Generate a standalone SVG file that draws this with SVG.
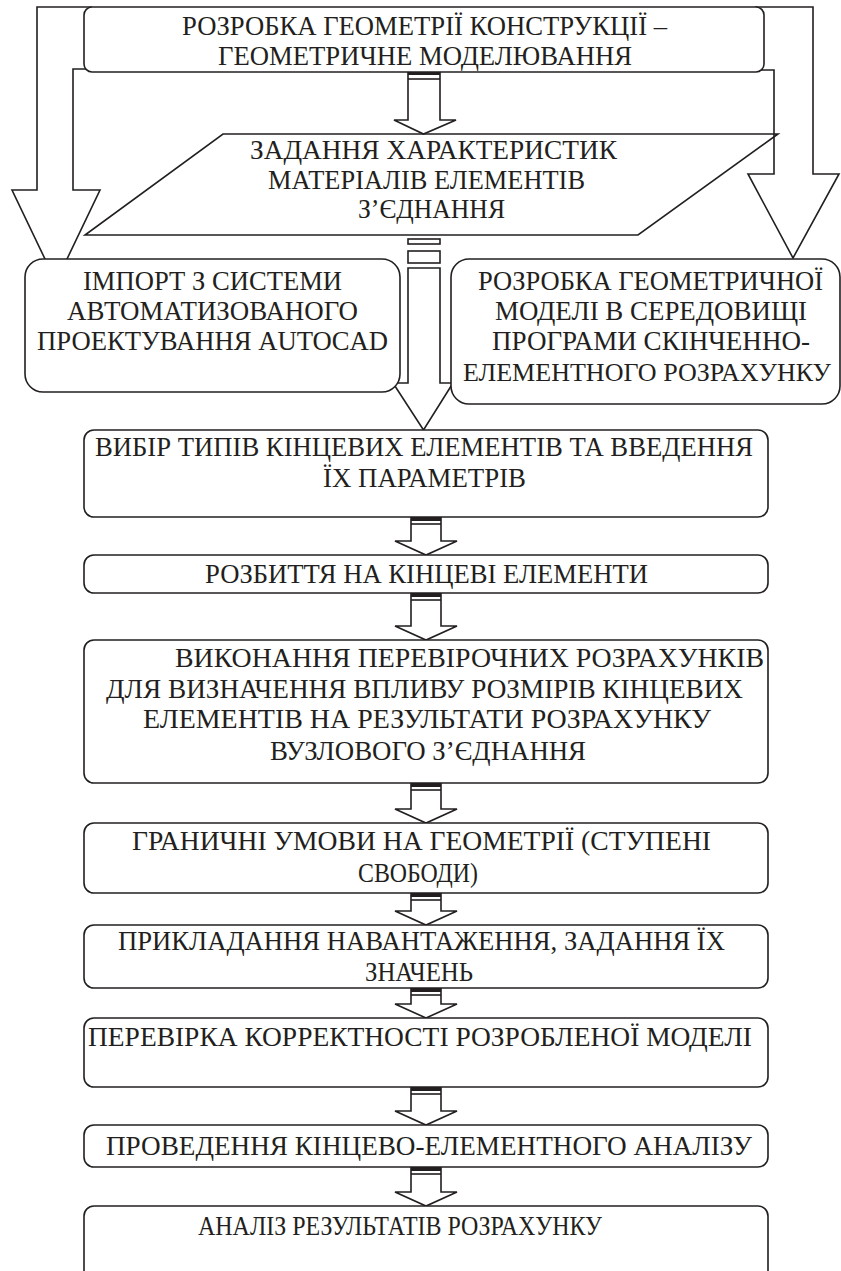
<svg xmlns="http://www.w3.org/2000/svg" width="841" height="1271" viewBox="0 0 841 1271">
<style>
.bx{fill:#fff;stroke:#231f20;stroke-width:1.6}
.cn{fill:none;stroke:#231f20;stroke-width:1.6;stroke-linejoin:miter}
.bar{fill:#231f20}
.t{font-family:"Liberation Serif","Times New Roman",serif;font-size:27px;fill:#231f20;text-anchor:middle}
.c{font-size:28px}
</style>
<rect width="841" height="1271" fill="#fff"/>
<g id="connectors">
<path class="cn" d="M92,7 H37 V190 H12 L56,282 L100,190 H73 V69 H90"/>
<path class="cn" d="M755,7 H813 V174 H839 L793,258 L748,174 H774 V70 H757"/>
<path class="cn" d="M408,72 V120 H394 L423.5,134 L456,120 H440 V72"/>
<rect class="bar" x="408" y="71" width="32" height="4"/>
<line class="cn" x1="408" y1="79" x2="440" y2="79"/>
<rect class="cn" x="408" y="239" width="32" height="5"/>
<rect class="cn" x="408" y="251" width="32" height="12"/>
<path class="cn" d="M408,268 V383 H393 L423.5,430 L453,383 H440 V268 Z"/>
<path class="cn" d="M411,517 V541 H395 L426,555 L457,541 H441 V517"/>
<rect class="bar" x="411" y="517" width="30" height="4"/><line class="cn" x1="411" y1="524" x2="441" y2="524"/>
<path class="cn" d="M411,593 V626 H395 L426,640 L457,626 H441 V593"/>
<rect class="bar" x="411" y="593" width="30" height="4"/><line class="cn" x1="411" y1="600" x2="441" y2="600"/>
<path class="cn" d="M411,783 V809 H395 L426,823 L457,809 H441 V783"/>
<rect class="bar" x="411" y="783" width="30" height="4"/><line class="cn" x1="411" y1="790" x2="441" y2="790"/>
<path class="cn" d="M411,893 V911 H395 L426,925 L457,911 H441 V893"/>
<rect class="bar" x="411" y="893" width="30" height="4"/><line class="cn" x1="411" y1="900" x2="441" y2="900"/>
<path class="cn" d="M411,988 V1004 H395 L426,1018 L457,1004 H441 V988"/>
<rect class="bar" x="411" y="988" width="30" height="4"/><line class="cn" x1="411" y1="995" x2="441" y2="995"/>
<path class="cn" d="M411,1087 V1111 H395 L426,1125 L457,1111 H441 V1087"/>
<rect class="bar" x="411" y="1087" width="30" height="4"/><line class="cn" x1="411" y1="1094" x2="441" y2="1094"/>
<path class="cn" d="M411,1167 V1192 H395 L426,1206 L457,1192 H441 V1167"/>
<rect class="bar" x="411" y="1167" width="30" height="4"/><line class="cn" x1="411" y1="1174" x2="441" y2="1174"/>
</g>
<g id="n-geom">
<rect class="bx" x="84" y="7" width="680" height="65" rx="8"/>
<text class="t" x="424.5" y="35" textLength="485" lengthAdjust="spacingAndGlyphs">РОЗРОБКА ГЕОМЕТРІЇ КОНСТРУКЦІЇ –</text>
<text class="t" x="425" y="65" textLength="414" lengthAdjust="spacingAndGlyphs">ГЕОМЕТРИЧНЕ МОДЕЛЮВАННЯ</text>
</g>
<g id="n-material">
<path class="cn" d="M223,134 H778 L638,235 H85 Z"/>
<text class="t" x="433.5" y="159" textLength="367" lengthAdjust="spacingAndGlyphs">ЗАДАННЯ ХАРАКТЕРИСТИК</text>
<text class="t" x="426.5" y="189" textLength="317" lengthAdjust="spacingAndGlyphs">МАТЕРІАЛІВ ЕЛЕМЕНТІВ</text>
<text class="t" x="431.5" y="218" textLength="147" lengthAdjust="spacingAndGlyphs">З’ЄДНАННЯ</text>
</g>
<g id="n-import">
<rect class="bx" x="25" y="259" width="375" height="133" rx="18"/>
<text class="t" x="212.5" y="290" textLength="259" lengthAdjust="spacingAndGlyphs">ІМПОРТ З СИСТЕМИ</text>
<text class="t" x="212.5" y="320" textLength="291" lengthAdjust="spacingAndGlyphs">АВТОМАТИЗОВАНОГО</text>
<text class="t" x="212.5" y="350" textLength="351" lengthAdjust="spacingAndGlyphs">ПРОЕКТУВАННЯ AUTOCAD</text>
</g>
<g id="n-fem-model">
<rect class="bx" x="451" y="259" width="389" height="145" rx="18"/>
<text class="t" x="650.5" y="290" textLength="345" lengthAdjust="spacingAndGlyphs">РОЗРОБКА ГЕОМЕТРИЧНОЇ</text>
<text class="t" x="651" y="320" textLength="312" lengthAdjust="spacingAndGlyphs">МОДЕЛІ В СЕРЕДОВИЩІ</text>
<text class="t" x="651" y="350" textLength="318" lengthAdjust="spacingAndGlyphs">ПРОГРАМИ СКІНЧЕННО-</text>
<text class="t" x="647" y="381" style="font-size:25px" textLength="368" lengthAdjust="spacingAndGlyphs">ЕЛЕМЕНТНОГО РОЗРАХУНКУ</text>
</g>
<g id="n-types">
<rect class="bx" x="84" y="430" width="684" height="87" rx="10"/>
<text class="t c" x="424" y="456" textLength="658" lengthAdjust="spacingAndGlyphs">ВИБІР ТИПІВ КІНЦЕВИХ ЕЛЕМЕНТІВ ТА ВВЕДЕННЯ</text>
<text class="t c" x="424.5" y="487" textLength="203" lengthAdjust="spacingAndGlyphs">ЇХ ПАРАМЕТРІВ</text>
</g>
<g id="n-mesh">
<rect class="bx" x="84" y="555" width="684" height="38" rx="10"/>
<text class="t c" x="426.5" y="583" textLength="443" lengthAdjust="spacingAndGlyphs">РОЗБИТТЯ НА КІНЦЕВІ ЕЛЕМЕНТИ</text>
</g>
<g id="n-check-calc">
<rect class="bx" x="84" y="640" width="684" height="143" rx="10"/>
<text class="t c" x="469.5" y="667" textLength="589" lengthAdjust="spacingAndGlyphs">ВИКОНАННЯ ПЕРЕВІРОЧНИХ РОЗРАХУНКІВ</text>
<text class="t c" x="424.5" y="698" textLength="637" lengthAdjust="spacingAndGlyphs">ДЛЯ ВИЗНАЧЕННЯ ВПЛИВУ РОЗМІРІВ КІНЦЕВИХ</text>
<text class="t c" x="427" y="728" textLength="568" lengthAdjust="spacingAndGlyphs">ЕЛЕМЕНТІВ НА РЕЗУЛЬТАТИ РОЗРАХУНКУ</text>
<text class="t c" x="428" y="760" textLength="316" lengthAdjust="spacingAndGlyphs">ВУЗЛОВОГО З’ЄДНАННЯ</text>
</g>
<g id="n-boundary">
<rect class="bx" x="84" y="823" width="684" height="70" rx="10"/>
<text class="t c" x="421.5" y="850" textLength="579" lengthAdjust="spacingAndGlyphs">ГРАНИЧНІ УМОВИ НА ГЕОМЕТРІЇ (СТУПЕНІ</text>
<text class="t c" x="418" y="882" textLength="120" lengthAdjust="spacingAndGlyphs">СВОБОДИ)</text>
</g>
<g id="n-loads">
<rect class="bx" x="84" y="925" width="684" height="63" rx="10"/>
<text class="t c" x="421.5" y="950" textLength="607" lengthAdjust="spacingAndGlyphs">ПРИКЛАДАННЯ НАВАНТАЖЕННЯ, ЗАДАННЯ ЇХ</text>
<text class="t c" x="419" y="981" textLength="108" lengthAdjust="spacingAndGlyphs">ЗНАЧЕНЬ</text>
</g>
<g id="n-verify">
<rect class="bx" x="84" y="1018" width="684" height="69" rx="10"/>
<text class="t c" x="420" y="1046" textLength="664" lengthAdjust="spacingAndGlyphs">ПЕРЕВІРКА КОРРЕКТНОСТІ РОЗРОБЛЕНОЇ МОДЕЛІ</text>
</g>
<g id="n-analysis">
<rect class="bx" x="84" y="1125" width="684" height="42" rx="10"/>
<text class="t c" x="429" y="1155" textLength="646" lengthAdjust="spacingAndGlyphs">ПРОВЕДЕННЯ КІНЦЕВО-ЕЛЕМЕНТНОГО АНАЛІЗУ</text>
</g>
<g id="n-results">
<rect class="bx" x="84" y="1206" width="684" height="84" rx="10"/>
<text class="t c" x="400" y="1235" textLength="404" lengthAdjust="spacingAndGlyphs">АНАЛІЗ РЕЗУЛЬТАТІВ РОЗРАХУНКУ</text>
</g>
</svg>
